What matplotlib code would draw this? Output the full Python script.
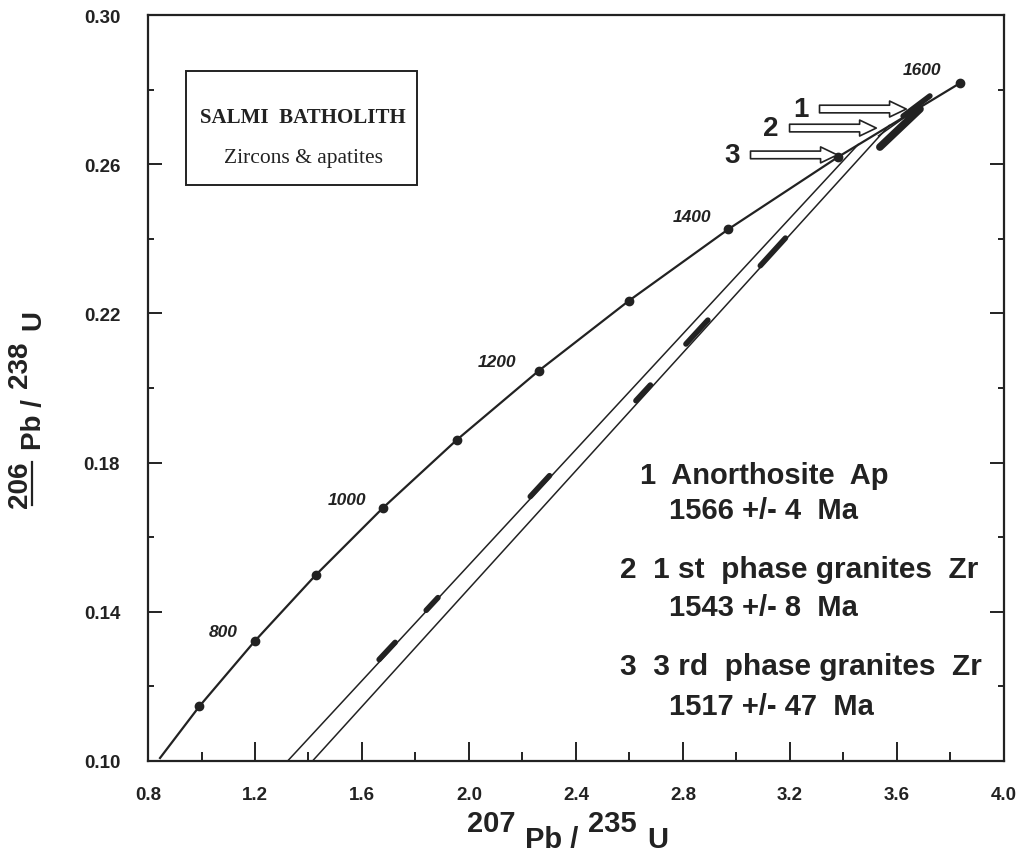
import matplotlib
matplotlib.use("Agg")
import numpy as np
import matplotlib.pyplot as plt
from matplotlib.patches import FancyArrowPatch, Rectangle
from matplotlib.lines import Line2D

# -------------------------
# Data
# -------------------------

# concordia: ages (Ma) of the marked points and their isotope ratios
conc_age = [700, 800, 900, 1000, 1100, 1200, 1300, 1400, 1500, 1600]
conc_x = [0.9925, 1.1987, 1.4263, 1.6774, 1.9545, 2.2603, 2.5978, 2.9700, 3.3810, 3.8345]
conc_y = [0.1147, 0.1321, 0.1498, 0.1678, 0.1861, 0.2046, 0.2234, 0.2426, 0.2620, 0.2817]
conc_start_x = 0.845
conc_start_y = 0.1008

age_labels = ["800", "1000", "1200", "1400", "1600"]

# discordia lines (2 = 1st phase granites, 3 = 3rd phase granites)
disc_lo_x = [1.415, 1.322]
disc_lo_y = [0.100, 0.100]
disc_up_x = [3.571, 3.455]
disc_up_y = [0.2704, 0.2653]

# analyses drawn as thin elongated error ellipses (centre, half-extent)
ell_x = [1.694, 1.862, 2.265, 2.651, 2.852, 3.136, 3.611, 3.673]
ell_y = [0.1295, 0.1421, 0.1737, 0.1987, 0.2150, 0.2365, 0.2697, 0.2756]
ell_dx = [0.030, 0.022, 0.036, 0.027, 0.041, 0.047, 0.075, 0.050]
ell_dy = [0.0023, 0.0017, 0.0028, 0.0021, 0.0032, 0.0037, 0.0051, 0.0027]

# results
res_num = ["1", "2", "3"]
res_name = ["Anorthosite  Ap", "1 st  phase granites  Zr", "3 rd  phase granites  Zr"]
res_age = [1566, 1543, 1517]
res_err = [4, 8, 47]

# arrow tips for the numbered results
arrow_x = [3.645, 3.533, 3.387]
arrow_y = [0.2748, 0.2697, 0.2625]

xticks = [0.8, 1.2, 1.6, 2.0, 2.4, 2.8, 3.2, 3.6, 4.0]
yticks = [0.10, 0.14, 0.18, 0.22, 0.26, 0.30]

# -------------------------
# Plot
# -------------------------

ink = "#222222"
sans = "Liberation Sans"
serif = "Liberation Serif"

fig = plt.figure(figsize=(10.2, 8.53), dpi=100)
ax = fig.add_axes([0.1451, 0.1067, 0.8392, 0.8745])
ax.set_xlim(0.8, 4.0)
ax.set_ylim(0.10, 0.30)

# concordia
cx = [conc_start_x] + conc_x
cy = [conc_start_y] + conc_y
ax.plot(cx, cy, color=ink, lw=1.6, zorder=3)
ax.plot(conc_x, conc_y, "o", color=ink, ms=6, zorder=4)

pos = {"800": (1.080, 0.1346), "1000": (1.544, 0.1702), "1200": (2.105, 0.2072),
       "1400": (2.834, 0.2461), "1600": (3.693, 0.2855)}
for lab in age_labels:
    ax.text(*pos[lab], lab, fontsize=12.5, style="italic", weight="bold",
            family=sans, color=ink, ha="center", va="center")

# discordias
for x0, y0, x1, y1 in zip(disc_lo_x, disc_lo_y, disc_up_x, disc_up_y):
    ax.plot([x0, x1], [y0, y1], color=ink, lw=1.1, zorder=2)
# apatite discordia (short)
ax.plot([3.531, 3.676], [0.2676, 0.2750], color=ink, lw=1.1, zorder=2)

# analyses
for x, y, dx, dy in zip(ell_x, ell_y, ell_dx, ell_dy):
    lw = 5.5 if dx > 0.06 else 4
    ax.plot([x - dx, x + dx], [y - dy, y + dy], color=ink, lw=lw,
            solid_capstyle="round", zorder=5)

# numbered hollow arrows
for n, xt, yt in zip(res_num, arrow_x, arrow_y):
    arr = FancyArrowPatch((xt - 0.345, yt), (xt, yt),
                          arrowstyle="simple,head_width=1.15,head_length=1.2,tail_width=0.55",
                          mutation_scale=10, fc="white", ec=ink, lw=1.2, zorder=6)
    ax.add_patch(arr)
    ax.text(xt - 0.375, yt, n, fontsize=20, weight="bold", family=sans, color=ink,
            ha="right", va="center")

# title box
ax.add_patch(Rectangle((0.0445, 0.7718), 0.2693, 0.153, transform=ax.transAxes,
                       fill=False, ec=ink, lw=1.4))
ax.text(0.1815, 0.8564, "SALMI  BATHOLITH", transform=ax.transAxes, fontsize=15,
        weight="bold", family=serif, color=ink, ha="center", va="baseline")
ax.text(0.1815, 0.8027, "Zircons & apatites", transform=ax.transAxes, fontsize=15.5,
        family=serif, color=ink, ha="center", va="baseline")

# results text
rows_y = [(0.1745, 0.1651), (0.1493, 0.1391), (0.1233, 0.1126)]
for k in range(3):
    x0 = 2.639 if k == 0 else 2.564
    ax.text(x0, rows_y[k][0], res_num[k] + "  " + res_name[k], fontsize=21.5 if k else 21,
            weight="bold", family=sans, color=ink, ha="left", va="baseline")
    ax.text(2.748, rows_y[k][1], f"{res_age[k]} +/- {res_err[k]}  Ma", fontsize=21,
            weight="bold", family=sans, color=ink, ha="left", va="baseline")

# axes styling
for s in ax.spines.values():
    s.set_linewidth(1.6)
    s.set_color(ink)
ax.set_xticks(xticks)
ax.set_xticks(np.arange(1.0, 4.0, 0.4), minor=True)
ax.set_yticks(yticks)
ax.set_yticks(np.arange(0.12, 0.30, 0.04), minor=True)
ax.set_xticklabels([f"{v:.1f}" for v in xticks])
ax.set_yticklabels([f"{v:.2f}" for v in yticks])
ax.xaxis.set_tick_params(which="major", direction="in", length=14, width=1.4, pad=18, color=ink)
ax.xaxis.set_tick_params(which="minor", direction="in", length=6.5, width=1.4, color=ink)
ax.yaxis.set_tick_params(which="both", direction="in", right=True, width=1.4, color=ink)
ax.yaxis.set_tick_params(which="major", length=10, pad=20)
ax.yaxis.set_tick_params(which="minor", length=4.5)
for lab in ax.get_xticklabels() + ax.get_yticklabels():
    lab.set_family(sans)
    lab.set_weight("bold")
    lab.set_fontsize(13.5)
    lab.set_color(ink)

# x label: 207Pb / 235U
kw = dict(fontsize=21, weight="bold", family=sans, color=ink)
t = fig.text(0.458, 0.017, "207", va="bottom", ha="left", **kw)
t = ax.annotate("Pb /", xy=(1, 0), xycoords=t, xytext=(7, -11), textcoords="offset points",
                va="bottom", ha="left", **kw)
t = ax.annotate("235", xy=(1, 0), xycoords=t, xytext=(7, 11), textcoords="offset points",
                va="bottom", ha="left", **kw)
t = ax.annotate("U", xy=(1, 0), xycoords=t, xytext=(7, -11), textcoords="offset points",
                va="bottom", ha="left", **kw)

# y label: 206Pb / 238U
kw = dict(fontsize=20, weight="bold", family=sans, color=ink, rotation=90)
t206 = fig.text(0.032, 0.405, "206", va="bottom", ha="right", **kw)
t = ax.annotate("Pb /", xy=(1, 1), xycoords=t206, xytext=(10, 8), textcoords="offset points",
                va="bottom", ha="right", **kw)
t = ax.annotate("238", xy=(1, 1), xycoords=t, xytext=(-10, 8), textcoords="offset points",
                va="bottom", ha="right", **kw)
t = ax.annotate("U", xy=(1, 1), xycoords=t, xytext=(10, 8), textcoords="offset points",
                va="bottom", ha="right", **kw)

fig.canvas.draw()
bb = t206.get_window_extent().transformed(fig.transFigure.inverted())
fig.add_artist(Line2D([bb.x1 - 0.001, bb.x1 - 0.001], [bb.y0 + 0.002, bb.y1 - 0.002],
                      transform=fig.transFigure, color=ink, lw=1.6))

fig.savefig("out.png", dpi=100, facecolor="white")
